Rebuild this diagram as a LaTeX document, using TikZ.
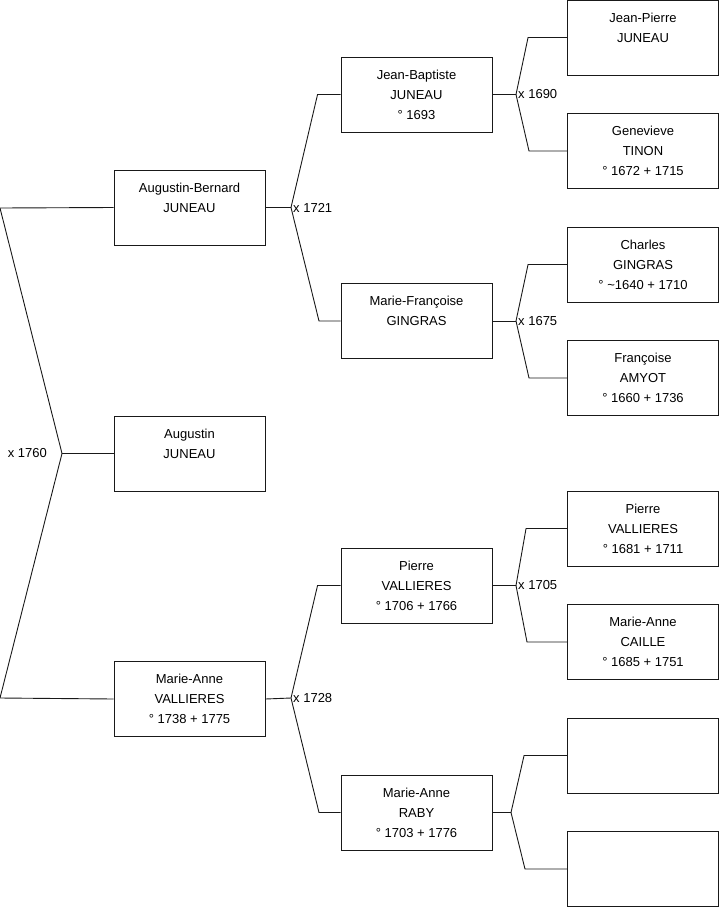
\documentclass[tikz,border=0pt]{standalone}
\usepackage{fontspec}
\setmainfont{Liberation Sans}
\usepackage{tikz}
\usetikzlibrary{positioning}
\tikzset{
  person/.style={draw=black!90, line width=0.9pt, fill=white, minimum width=151pt, minimum height=75pt, inner sep=0pt, align=center, font=\fontsize{13}{20}\selectfont},
  link/.style={draw=black!90, line width=0.9pt},
  marriage/.style={font=\fontsize{13}{14}\selectfont, inner sep=2pt}
}
\begin{document}
\begin{tikzpicture}[x=1pt, y=-1pt]
  \useasboundingbox (0,0) rectangle (719,908);
  % generation 1
  \node[person] (augustin) at (189.5,453.5) {Augustin\\JUNEAU\\\mbox{}};
  % generation 2
  \node[person] (augbern) at (189.5,207.5) {Augustin-Bernard\\JUNEAU\\\mbox{}};
  \node[person] (mavall) at (189.5,699) {Marie-Anne\\VALLIERES\\° 1738 + 1775};
  % generation 3
  \node[person] (jbapt) at (416.5,94.5) {Jean-Baptiste\\JUNEAU\\° 1693};
  \node[person] (mfging) at (416.5,321) {Marie-Françoise\\GINGRAS\\\mbox{}};
  \node[person] (pvall) at (416.5,585.5) {Pierre\\VALLIERES\\° 1706 + 1766};
  \node[person] (maraby) at (416.5,812.5) {Marie-Anne\\RABY\\° 1703 + 1776};
  % generation 4
  \node[person] (jpjun) at (643,37.5) {Jean-Pierre\\JUNEAU\\\mbox{}};
  \node[person] (gtinon) at (643,151) {Genevieve\\TINON\\° 1672 + 1715};
  \node[person] (cging) at (643,264.5) {Charles\\GINGRAS\\° \textasciitilde1640 + 1710};
  \node[person] (famyot) at (643,378) {Françoise\\AMYOT\\° 1660 + 1736};
  \node[person] (pvallf) at (643,528.5) {Pierre\\VALLIERES\\° 1681 + 1711};
  \node[person] (macail) at (643,642) {Marie-Anne\\CAILLE\\° 1685 + 1751};
  \node[person] (unkna) at (643,755.5) {};
  \node[person] (unknb) at (643,869) {};
  % junctions
  \coordinate (top1) at (0,208);
  \coordinate (bot1) at (0,698);
  \coordinate (j1) at (62,453.5);
  \coordinate (j2) at (291,207.5);
  \coordinate (j3) at (291,698);
  \coordinate (j4) at (516,94.5);
  \coordinate (j5) at (516,321);
  \coordinate (j6) at (516,585.5);
  \coordinate (j7) at (511,812.5);
  % links
  \draw[link] (augbern.west) -- (top1) -- (j1) -- (bot1) -- (mavall.west);
  \draw[link] (j1) -- (augustin.west);
  \node[marriage, left=13pt of j1] (m1) {x 1760};
  \draw[link] (augbern.east) -- (j2);
  \draw[link] (jbapt.west) -- ++(-23,0) -- (j2) -- (319,321) -- (mfging.west);
  \node[marriage, right=0pt of j2] (m2) {x 1721};
  \draw[link] (mavall.east) -- (j3);
  \draw[link] (pvall.west) -- ++(-23,0) -- (j3) -- (319,812.5) -- (maraby.west);
  \node[marriage, right=0pt of j3] (m3) {x 1728};
  \draw[link] (jbapt.east) -- (j4);
  \draw[link] (jpjun.west) -- ++(-39,0) -- (j4) -- (529,151) -- (gtinon.west);
  \node[marriage, right=0pt of j4] (m4) {x 1690};
  \draw[link] (mfging.east) -- (j5);
  \draw[link] (cging.west) -- ++(-39,0) -- (j5) -- (529,378) -- (famyot.west);
  \node[marriage, right=0pt of j5] (m5) {x 1675};
  \draw[link] (pvall.east) -- (j6);
  \draw[link] (pvallf.west) -- ++(-41,0) -- (j6) -- (527,642) -- (macail.west);
  \node[marriage, right=0pt of j6] (m6) {x 1705};
  \draw[link] (maraby.east) -- (j7);
  \draw[link] (unkna.west) -- ++(-43,0) -- (j7) -- (525,869) -- (unknb.west);
\end{tikzpicture}
\end{document}
